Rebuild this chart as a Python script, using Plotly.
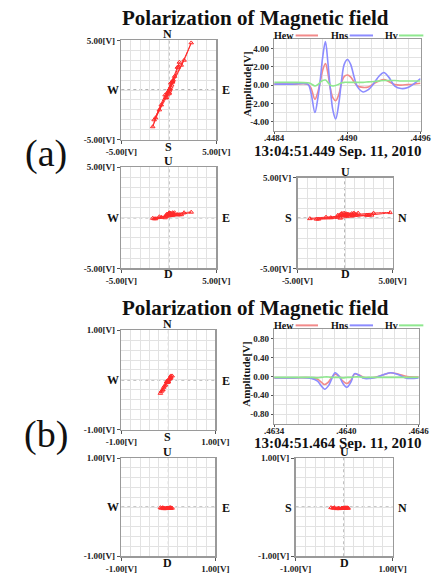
import plotly.graph_objects as go

W, H = 442, 578
FONT = "Liberation Serif"

# ---------------- data (a) ----------------
t_a = [0.44840, 0.448548, 0.448675, 0.448701, 0.448734, 0.448757, 0.448777, 0.448797,
       0.448820, 0.448840, 0.448861, 0.448882, 0.448904, 0.448930, 0.448955, 0.448975,
       0.449001, 0.449026, 0.449057, 0.449083, 0.449129, 0.449172, 0.449223, 0.449261,
       0.449299, 0.449338, 0.449389, 0.449440, 0.449491, 0.449542, 0.44960]
hns_a = [0.1, 0.1, 0.1, -0.8, -3.0, -1.5, 0.5, 3.0, 4.75, 2.5, -0.5, -2.8, -3.7, -2.0, 0.8, 2.3,
         2.8, 2.3, 0.8, -0.2, -0.75, -0.5, 0.3, 1.0, 1.38, 0.9, -0.1, -0.38, -0.3, 0.1, 0.7]
hew_a = [0.1, 0.1, 0.1, -0.3, -1.55, -0.8, 0.3, 1.6, 2.35, 1.3, -0.4, -1.4, -1.7, -1.0, 0.4, 0.95,
         1.1, 0.9, 0.3, -0.1, -0.25, -0.2, 0.2, 0.45, 0.6, 0.4, 0.05, 0.0, 0.05, 0.1, 0.2]
hv_a = [0.3, 0.3, 0.25, 0.15, -0.1, 0.05, 0.3, 0.5, 0.55, 0.3, 0.0, -0.1, -0.05, 0.1, 0.25, 0.3,
        0.3, 0.3, 0.3, 0.3, 0.3, 0.35, 0.4, 0.45, 0.5, 0.5, 0.5, 0.45, 0.45, 0.45, 0.45]

# ---------------- data (b) ----------------
t_b = [0.463400, 0.463554, 0.463708, 0.463760, 0.463791, 0.463819, 0.463850, 0.463878,
       0.463906, 0.463940, 0.463971, 0.464004, 0.464037, 0.464068, 0.464107, 0.464145,
       0.464197, 0.464248, 0.464300, 0.464364, 0.464428, 0.464505, 0.464600]
hns_b = [-0.03, -0.03, -0.04, -0.10, -0.20, -0.27, -0.20, -0.05, 0.08, 0.00, -0.15, -0.23,
         -0.12, 0.06, 0.02, -0.04, -0.04, -0.02, 0.03, 0.08, 0.04, -0.04, -0.03]
hew_b = [-0.03, -0.03, -0.03, -0.06, -0.12, -0.17, -0.12, -0.02, 0.05, 0.00, -0.10, -0.15,
         -0.08, 0.05, 0.03, -0.02, -0.03, -0.01, 0.03, 0.08, 0.05, 0.00, -0.01]
hv_b = [-0.02, -0.02, -0.02, -0.03, -0.02, -0.01, -0.01, -0.02, -0.02, -0.02, -0.03, -0.02,
        -0.02, -0.01, -0.01, -0.02, -0.02, -0.02, -0.02, -0.02, -0.02, -0.02, -0.02]

series_names = ["Hew", "Hns", "Hv"]
series_colors = ["#f28a8a", "#8c8cff", "#8fe88f"]
hodo_color = "#ff2a2a"

panel_title = "Polarization of Magnetic field"
date_a = "13:04:51.449 Sep. 11, 2010"
date_b = "13:04:51.464 Sep. 11, 2010"
xt_a = [0.4484, 0.4490, 0.4496]
xt_a_text = [".4484", ".4490", ".4496"]
xt_b = [0.4634, 0.4640, 0.4646]
xt_b_text = [".4634", ".4640", ".4646"]
yt_a = [-4, -2, 0, 2, 4]
yt_a_text = ["-4.00", "-2.00", "0.00", "2.00", "4.00"]
yt_b = [-0.8, -0.4, 0, 0.4, 0.8]
yt_b_text = ["-0.80", "-0.40", "0.00", "0.40", "0.80"]


def dx(x0, x1):
    return [x0 / W, x1 / W]


def dy(y0, y1):
    return [1 - y1 / H, 1 - y0 / H]


def px(x):
    return x / W


def py(y):
    return 1 - y / H


TICKFONT = dict(family=FONT, size=9, color="#222", weight="bold")
GRID = "#e2e2e2"
FRAME = "#9a9a9a"


def hodo_axis(dom, anchor, r, top=None):
    lab = "%.2f[V]" % r
    hi = r if top is None else top   # visible top of a clipped frame
    return dict(domain=dom, anchor=anchor, range=[-r, hi], tickmode="array",
                tickvals=[-r, hi], ticktext=["-" + lab, lab], ticks="outside", ticklen=3,
                tickcolor="#555", showgrid=False, zeroline=False, showline=True, mirror=True,
                linecolor=FRAME, linewidth=1.5,
                minor=dict(tick0=0, dtick=r / 5, showgrid=True, gridcolor=GRID, gridwidth=1),
                tickfont=TICKFONT, fixedrange=True)


def ts_axis(dom, anchor, rng, tv, tt, minor_dtick, tick0, standoff=0):
    return dict(domain=dom, anchor=anchor, range=rng, tickmode="array", tickvals=tv,
                ticktext=tt, ticks="outside", ticklen=2, tickcolor="#555", showgrid=True,
                gridcolor=GRID, zeroline=False, showline=True, mirror=True, linecolor=FRAME,
                linewidth=1.5, ticklabelstandoff=standoff,
                minor=dict(tick0=tick0, dtick=minor_dtick, showgrid=True, gridcolor=GRID,
                           gridwidth=1),
                tickfont=TICKFONT, fixedrange=True)


fig = go.Figure()

# panel geometry (pixel boxes)
boxes = {
    1: (113, 215, 36, 137),   # (a) N-S / W-E
    2: (277, 434, 35, 128),   # (a) waveform
    3: (113, 215, 165, 268),  # (a) U-D / W-E
    4: (302, 404, 176, 268),  # (a) U-D / S-N (top row clipped in the original)
    5: (113, 214, 331, 432),  # (b) N-S / W-E
    6: (277, 432, 330, 426),  # (b) waveform
    7: (113, 214, 461, 561),  # (b) U-D / W-E
    8: (300, 404, 461, 561),  # (b) U-D / S-N
}

layout_axes = {}
for n, (x0, x1, y0, y1) in boxes.items():
    xa = "xaxis" if n == 1 else "xaxis%d" % n
    ya = "yaxis" if n == 1 else "yaxis%d" % n
    xr = "x" if n == 1 else "x%d" % n
    yr = "y" if n == 1 else "y%d" % n
    if n in (2, 6):
        if n == 2:
            layout_axes[xa] = ts_axis(dx(x0, x1), yr, [0.4484, 0.4496], xt_a, xt_a_text, 0.0001, 0.4484, -4)
            layout_axes[ya] = ts_axis(dy(y0, y1), xr, [-5, 5], yt_a, yt_a_text, 1, 0)
        else:
            layout_axes[xa] = ts_axis(dx(x0, x1), yr, [0.4634, 0.4646], xt_b, xt_b_text, 0.0001, 0.4634, -4)
            layout_axes[ya] = ts_axis(dy(y0, y1), xr, [-1, 1], yt_b, yt_b_text, 0.2, 0)
    else:
        r = 5.0 if n < 5 else 1.0
        layout_axes[xa] = hodo_axis(dx(x0, x1), yr, r)
        layout_axes[ya] = hodo_axis(dy(y0, y1), xr, r, top=4.0 if n == 4 else None)


def add_hodo(xv, yv, n):
    xr = "x" if n == 1 else "x%d" % n
    yr = "y" if n == 1 else "y%d" % n
    fig.add_trace(go.Scatter(x=xv, y=yv, mode="lines+markers", xaxis=xr, yaxis=yr,
                             line=dict(color=hodo_color, width=1, shape="spline"),
                             marker=dict(symbol="triangle-up-open", size=4, color=hodo_color,
                                         line=dict(width=1)),
                             showlegend=False, hoverinfo="skip"))


def add_wave(t, ys, n):
    xr = "x%d" % n
    yr = "y%d" % n
    for name, col, y in zip(series_names, series_colors, ys):
        fig.add_trace(go.Scatter(x=t, y=y, mode="lines", name=name, xaxis=xr, yaxis=yr,
                                 line=dict(color=col, width=1.6, shape="spline"),
                                 showlegend=False, hoverinfo="skip"))


# (a)
add_hodo(hew_a, hns_a, 1)
add_wave(t_a, [hew_a, hns_a, hv_a], 2)
add_hodo(hew_a, hv_a, 3)
add_hodo(hns_a, hv_a, 4)
# (b)
add_hodo(hew_b, hns_b, 5)
add_wave(t_b, [hew_b, hns_b, hv_b], 6)
add_hodo(hew_b, hv_b, 7)
add_hodo(hns_b, hv_b, 8)

shapes = []
annotations = []

# center dotted cross-hairs on hodograms (at the zero of each axis)
for n in (1, 3, 4, 5, 7, 8):
    xr = "x" if n == 1 else "x%d" % n
    yr = "y" if n == 1 else "y%d" % n
    shapes.append(dict(type="line", xref=xr, yref=yr + " domain", x0=0, x1=0,
                       y0=0, y1=1, line=dict(color="#666", width=1, dash="dot"), layer="below"))
    shapes.append(dict(type="line", xref=xr + " domain", yref=yr, x0=0, x1=1,
                       y0=0, y1=0, line=dict(color="#666", width=1, dash="dot"), layer="below"))


def text(x, y, s, size, bold=True, xanchor="center", angle=0):
    annotations.append(dict(x=px(x), y=py(y), xref="paper", yref="paper", text=s,
                            showarrow=False, xanchor=xanchor, yanchor="middle",
                            textangle=angle,
                            font=dict(family=FONT, size=size, color="#111",
                                      weight="bold" if bold else "normal")))


DIR = 12
for off, date_y, date in ((0, 149, date_a), (295, 151, date_b)):
    text(257, 13 + off, panel_title, 21)
    # legend
    for (tx, lx0, lx1), name, col in zip(((288, 300, 324), (347, 358, 383), (403, 411, 437)),
                                         series_names, series_colors):
        text(tx, 31 + off, name, 10)
        shapes.append(dict(type="line", xref="paper", yref="paper", x0=px(lx0), x1=px(lx1),
                           y0=py(31 + off), y1=py(31 + off), line=dict(color=col, width=2)))
    text(247, 81 + off, "Amplitude[V]", 11, angle=-90)
    text(253, date_y + off, date, 15, xanchor="left")

# direction letters
text(163, 30, "N", DIR); text(164, 145, "S", DIR); text(104, 86, "W", DIR); text(225, 87, "E", DIR)
text(164, 159, "U", DIR); text(164, 274, "D", DIR); text(104, 217, "W", DIR); text(225, 217, "E", DIR)
text(353, 170, "U", DIR); text(353, 274, "D", DIR); text(292, 217, "S", DIR); text(415, 217, "N", DIR)
text(163, 325, "N", DIR); text(163, 440, "S", DIR); text(104, 382, "W", DIR); text(225, 383, "E", DIR)
text(163, 455, "U", DIR); text(163, 568, "D", DIR); text(104, 511, "W", DIR); text(225, 512, "E", DIR)
text(352, 455, "U", DIR); text(352, 568, "D", DIR); text(292, 512, "S", DIR); text(415, 512, "N", DIR)

# panel letters
text(32, 151, "(a)", 38, bold=False)
text(32, 437, "(b)", 38, bold=False)

fig.update_layout(width=W, height=H, margin=dict(l=0, r=0, t=0, b=0),
                  paper_bgcolor="white", plot_bgcolor="white", showlegend=False,
                  shapes=shapes, annotations=annotations, **layout_axes)

fig.write_html("out.html", config={"displayModeBar": False, "staticPlot": True},
               post_script="document.body.style.margin='0px';document.body.style.overflow='hidden';")
